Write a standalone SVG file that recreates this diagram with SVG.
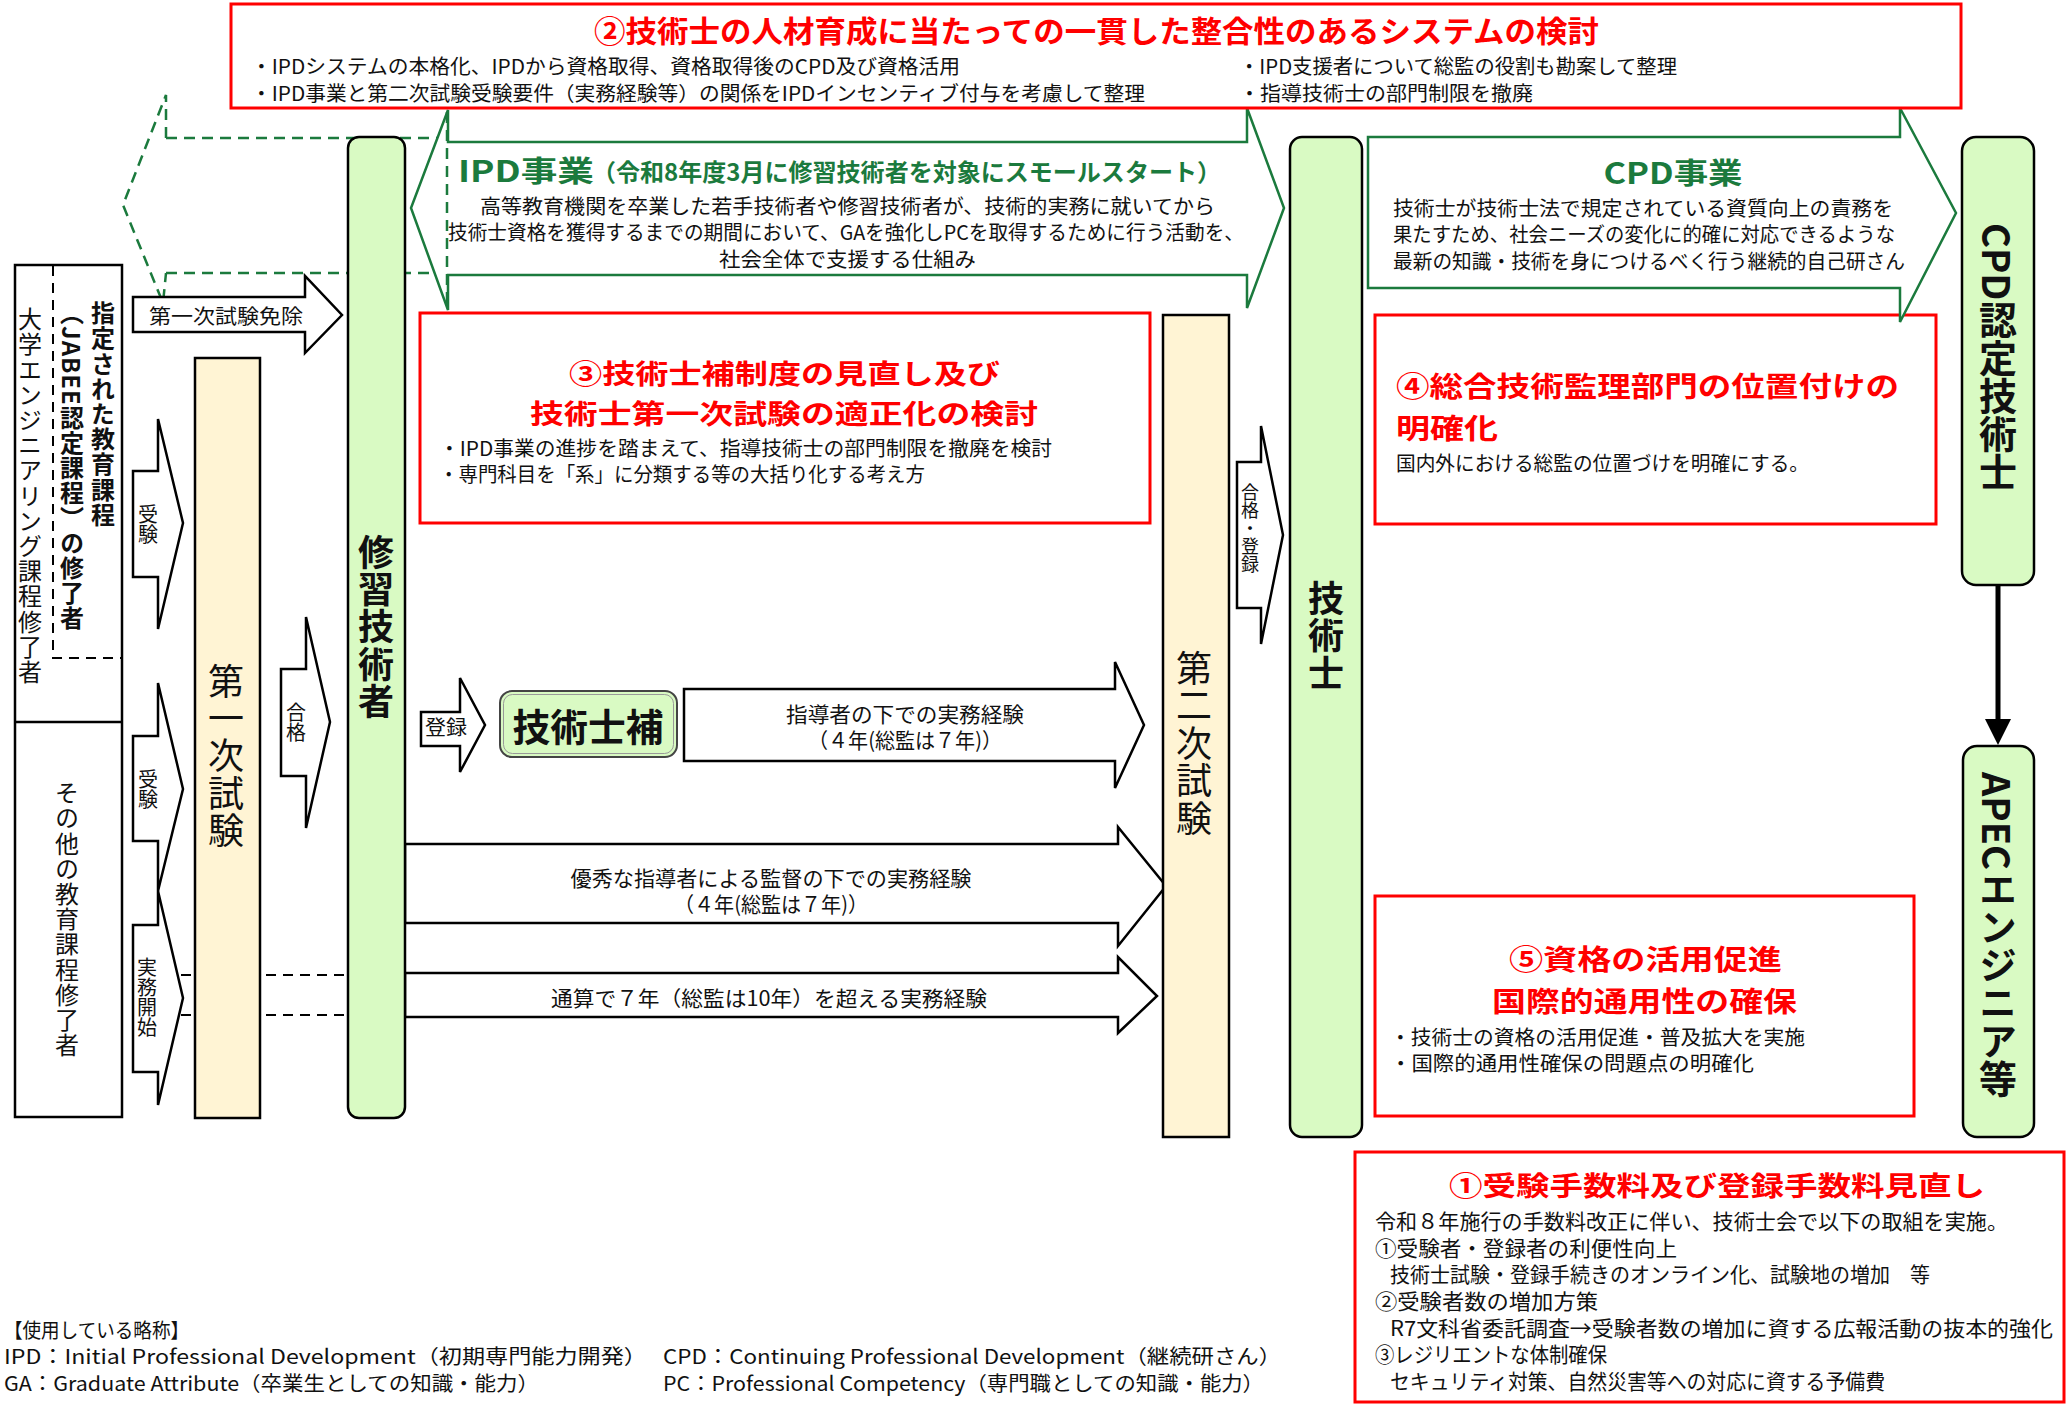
<svg xmlns="http://www.w3.org/2000/svg" width="2068" height="1404" viewBox="0 0 2068 1404">
<style>
text{font-family:"Noto Sans CJK JP","Noto Sans",sans-serif;fill:#111;}
.h{dominant-baseline:central;}
.b{font-weight:bold;}
.v{writing-mode:vertical-rl;}
.rt{fill:#FF0000;font-weight:bold;font-size:28px;}
.gt{fill:#1B7A3D;font-weight:bold;}
.n{fill:#111;font-weight:normal;font-size:20px;}
.n21{fill:#111;font-weight:normal;font-size:21px;}
.s20{font-size:20px;}
.s21{font-size:21px;}
.red{fill:#fff;stroke:#FF0000;stroke-width:3;}
.blk{fill:#fff;stroke:#000;stroke-width:2.5;stroke-linejoin:miter;}
.gbar{fill:#D9FAC3;stroke:#000;stroke-width:2.5;}
.ybar{fill:#FFF4D4;stroke:#000;stroke-width:2.5;}
.garr{fill:#fff;stroke:#1B7A3D;stroke-width:2.5;}
.gdash{fill:none;stroke:#1B7A3D;stroke-width:2.5;stroke-dasharray:11 7;}
.kdash{fill:none;stroke:#000;stroke-width:2;stroke-dasharray:10 7;}
</style>
<rect width="2068" height="1404" fill="#fff"/>

<g id="connectors">
  <path class="gdash" d="M166,138 L166,95 L123,205 L163,303 L166,273"/>
  <line class="gdash" x1="166" y1="138" x2="447" y2="138"/>
  <line class="gdash" x1="166" y1="273" x2="447" y2="273"/>
  <line class="kdash" x1="181" y1="975" x2="348" y2="975"/>
  <line class="kdash" x1="181" y1="1015" x2="348" y2="1015"/>
  <g id="arr-menjo">
    <polygon class="blk" points="133,297 305,297 305,276 342,315 305,353 305,332 133,332"/>
    <text class="h s20" x="226" y="315" text-anchor="middle" textLength="154" lengthAdjust="spacingAndGlyphs">第一次試験免除</text>
  </g>
  <g id="arr-juken1">
    <polygon class="blk" points="133,471 158,471 158,419 183,523 158,629 158,577 133,577"/>
    <text class="v s20" x="148" y="504">受験</text>
  </g>
  <g id="arr-juken2">
    <polygon class="blk" points="133,736 158,736 158,683 183,789 158,891 158,841 133,841"/>
    <text class="v s20" x="148" y="769">受験</text>
  </g>
  <g id="arr-jitsumu">
    <polygon class="blk" points="133,925 158,925 158,891 183,998 158,1105 158,1072 133,1072"/>
    <text class="v s20" x="147" y="957">実務開始</text>
  </g>
  <g id="arr-goukaku1">
    <polygon class="blk" points="281,669 306,669 306,617 330,722 306,828 306,776 281,776"/>
    <text class="v s20" x="296" y="702">合格</text>
  </g>
  <g id="arr-touroku">
    <polygon class="blk" points="421,712 460,712 460,678 485,725 460,772 460,746 421,746"/>
    <text class="h s20" x="446" y="726" text-anchor="middle" textLength="42" lengthAdjust="spacingAndGlyphs">登録</text>
  </g>
  <g id="arr-shidou">
    <polygon class="blk" points="684,689 1115,689 1115,662 1144,725 1115,788 1115,761 684,761"/>
    <text class="h s21" text-anchor="middle"><tspan x="905" y="713" textLength="238" lengthAdjust="spacingAndGlyphs">指導者の下での実務経験</tspan><tspan x="905" y="739" textLength="194" lengthAdjust="spacingAndGlyphs">（４年(総監は７年)）</tspan></text>
  </g>
  <g id="arr-yuushuu">
    <polygon class="blk" points="405,844 1118,844 1118,827 1166,886 1118,946 1118,923 405,923"/>
    <text class="h s21" text-anchor="middle"><tspan x="771" y="877" textLength="401" lengthAdjust="spacingAndGlyphs">優秀な指導者による監督の下での実務経験</tspan><tspan x="771" y="903" textLength="194" lengthAdjust="spacingAndGlyphs">（４年(総監は７年)）</tspan></text>
  </g>
  <g id="arr-tsuusan">
    <polygon class="blk" points="405,973 1118,973 1118,957 1157,996 1118,1033 1118,1017 405,1017"/>
    <text class="h s21" x="769" y="997" text-anchor="middle" textLength="436" lengthAdjust="spacingAndGlyphs">通算で７年（総監は10年）を超える実務経験</text>
  </g>
  <g id="arr-goukaku2">
    <polygon class="blk" points="1237,462 1261,462 1261,426 1283,535 1261,644 1261,608 1237,608"/>
    <text class="v" style="font-size:18px" x="1250" y="483">合格・登録</text>
  </g>
  <g id="arr-down">
    <line x1="1998" y1="585" x2="1998" y2="722" stroke="#000" stroke-width="5"/>
    <polygon points="1985,719 2011,719 1998,745" fill="#000"/>
  </g>
</g>

<g id="node-ipd">
  <path class="garr" d="M448,142 L1247,142 L1247,108 L1284,208 L1247,308 L1247,275 L448,275 L448,310 L411,208 L448,110 Z"/>
  <line class="gdash" x1="447" y1="112" x2="447" y2="308"/>
  <text class="h gt"><tspan x="458" y="169" style="font-size:29px" textLength="136" lengthAdjust="spacingAndGlyphs">IPD事業</tspan><tspan x="592" y="170" style="font-size:24px" textLength="629" lengthAdjust="spacingAndGlyphs">（令和8年度3月に修習技術者を対象にスモールスタート）</tspan><tspan class="n" x="480" y="204.5" textLength="735" lengthAdjust="spacingAndGlyphs">高等教育機関を卒業した若手技術者や修習技術者が、技術的実務に就いてから</tspan><tspan class="n" x="448" y="231" textLength="796" lengthAdjust="spacingAndGlyphs">技術士資格を獲得するまでの期間において、GAを強化しPCを取得するために行う活動を、</tspan><tspan class="n" x="719" y="257.5" textLength="257" lengthAdjust="spacingAndGlyphs">社会全体で支援する仕組み</tspan></text>
</g>

<g id="node-box4">
  <rect class="red" x="1375" y="315" width="561" height="209"/>
  <text class="h rt"><tspan x="1396" y="385" textLength="503" lengthAdjust="spacingAndGlyphs">④総合技術監理部門の位置付けの</tspan><tspan x="1396" y="427" textLength="102" lengthAdjust="spacingAndGlyphs">明確化</tspan><tspan class="n" x="1396" y="462" textLength="413" lengthAdjust="spacingAndGlyphs">国内外における総監の位置づけを明確にする。</tspan></text>
</g>

<g id="node-cpd">
  <polygon class="garr" points="1368,137 1900,137 1900,108 1956,213 1900,322 1900,288 1368,288"/>
  <text class="h gt"><tspan x="1673" y="171" style="font-size:29px" text-anchor="middle" textLength="139" lengthAdjust="spacingAndGlyphs">CPD事業</tspan><tspan class="n" x="1393" y="207" textLength="500" lengthAdjust="spacingAndGlyphs">技術士が技術士法で規定されている資質向上の責務を</tspan><tspan class="n" x="1393" y="233" textLength="502" lengthAdjust="spacingAndGlyphs">果たすため、社会ニーズの変化に的確に対応できるような</tspan><tspan class="n" x="1393" y="260" textLength="512" lengthAdjust="spacingAndGlyphs">最新の知識・技術を身につけるべく行う継続的自己研さん</tspan></text>
</g>

<g id="node-box2">
  <rect class="red" x="231" y="4" width="1730" height="104"/>
  <text class="h rt"><tspan x="594" y="29" style="font-size:29.5px" textLength="1005" lengthAdjust="spacingAndGlyphs">②技術士の人材育成に当たっての一貫した整合性のあるシステムの検討</tspan><tspan class="n" x="251" y="65" textLength="709" lengthAdjust="spacingAndGlyphs">・IPDシステムの本格化、IPDから資格取得、資格取得後のCPD及び資格活用</tspan><tspan class="n" x="251" y="92" textLength="894" lengthAdjust="spacingAndGlyphs">・IPD事業と第二次試験受験要件（実務経験等）の関係をIPDインセンティブ付与を考慮して整理</tspan><tspan class="n" x="1239" y="65" textLength="438" lengthAdjust="spacingAndGlyphs">・IPD支援者について総監の役割も勘案して整理</tspan><tspan class="n" x="1239" y="92" textLength="294" lengthAdjust="spacingAndGlyphs">・指導技術士の部門制限を撤廃</tspan></text>
</g>

<g id="node-graduates">
  <rect x="15" y="265" width="107" height="852" fill="#fff" stroke="#000" stroke-width="2.5"/>
  <line x1="15" y1="722" x2="122" y2="722" stroke="#000" stroke-width="2.5"/>
  <path class="kdash" d="M53,266 L53,658 L122,658"/>
  <text class="v" style="font-size:24px;letter-spacing:1.2px" x="30" y="307">大学エンジニアリング課程修了者</text>
  <text class="v b" style="font-size:24px;letter-spacing:1.2px" x="103" y="301">指定された教育課程</text>
  <text class="v b" style="font-size:24px;letter-spacing:1px" x="72" y="301">（JABEE認定課程）の修了者</text>
  <text class="v" style="font-size:24px;letter-spacing:1.2px" x="67" y="781">その他の教育課程修了者</text>
</g>

<g id="node-exam1">
  <rect class="ybar" x="195" y="358" width="65" height="760"/>
  <text class="v" style="font-size:36px;letter-spacing:1.4px" x="226" y="663">第一次試験</text>
</g>

<g id="node-shuushuu">
  <rect class="gbar" x="348" y="137" width="57" height="981" rx="11"/>
  <text class="v b" style="font-size:36px;letter-spacing:1.4px" x="376" y="534">修習技術者</text>
</g>

<g id="node-gijutsushiho">
  <rect x="500" y="691" width="177" height="66" rx="12" fill="#D9FAC3" stroke="#444" stroke-width="2"/>
  <rect x="503.5" y="694.5" width="170" height="59" rx="9" fill="none" stroke="#999" stroke-width="1"/>
  <text class="h b" x="588" y="724" style="font-size:38px" text-anchor="middle" textLength="151" lengthAdjust="spacingAndGlyphs">技術士補</text>
</g>

<g id="node-box3">
  <rect class="red" x="420" y="313" width="730" height="210"/>
  <text class="h rt" style="font-size:27.5px"><tspan x="569" y="372" textLength="431" lengthAdjust="spacingAndGlyphs">③技術士補制度の見直し及び</tspan><tspan x="530" y="412" textLength="508" lengthAdjust="spacingAndGlyphs">技術士第一次試験の適正化の検討</tspan><tspan class="n" x="439" y="447" textLength="613" lengthAdjust="spacingAndGlyphs">・IPD事業の進捗を踏まえて、指導技術士の部門制限を撤廃を検討</tspan><tspan class="n" x="439" y="473" textLength="486" lengthAdjust="spacingAndGlyphs">・専門科目を「系」に分類する等の大括り化する考え方</tspan></text>
</g>

<g id="node-exam2">
  <rect class="ybar" x="1163" y="315" width="66" height="822"/>
  <text class="v" style="font-size:36px;letter-spacing:1.6px" x="1194" y="650">第二次試験</text>
</g>

<g id="node-gijutsushi">
  <rect class="gbar" x="1290" y="137" width="72" height="1000" rx="12"/>
  <text class="v b" style="font-size:36px;letter-spacing:1.5px" x="1326" y="580">技術士</text>
</g>

<g id="node-cpdpe">
  <rect class="gbar" x="1962" y="137" width="72" height="448" rx="14"/>
  <text class="v b" style="font-size:38px" x="1998" y="223">CPD認定技術士</text>
</g>

<g id="node-apec">
  <rect class="gbar" x="1963" y="746" width="71" height="391" rx="14"/>
  <text class="v b" style="font-size:38px" x="1998" y="772">APECエンジニア等</text>
</g>

<g id="node-box5">
  <rect class="red" x="1375" y="896" width="539" height="220"/>
  <text class="h rt"><tspan x="1509" y="958" textLength="273" lengthAdjust="spacingAndGlyphs">⑤資格の活用促進</tspan><tspan x="1492" y="1000" textLength="305" lengthAdjust="spacingAndGlyphs">国際的通用性の確保</tspan><tspan class="n" x="1390" y="1036" textLength="415" lengthAdjust="spacingAndGlyphs">・技術士の資格の活用促進・普及拡大を実施</tspan><tspan class="n" x="1390" y="1062" textLength="364" lengthAdjust="spacingAndGlyphs">・国際的通用性確保の問題点の明確化</tspan></text>
</g>

<g id="node-box1">
  <rect class="red" x="1355" y="1152" width="709" height="250"/>
  <text class="h rt" style="font-size:27px"><tspan x="1449" y="1184" textLength="536" lengthAdjust="spacingAndGlyphs">①受験手数料及び登録手数料見直し</tspan><tspan class="n21" x="1375" y="1220" textLength="633" lengthAdjust="spacingAndGlyphs">令和８年施行の手数料改正に伴い、技術士会で以下の取組を実施。</tspan><tspan class="n21" x="1375" y="1247" textLength="302" lengthAdjust="spacingAndGlyphs">①受験者・登録者の利便性向上</tspan><tspan class="n21" x="1390" y="1273" textLength="540" lengthAdjust="spacingAndGlyphs">技術士試験・登録手続きのオンライン化、試験地の増加　等</tspan><tspan class="n21" x="1375" y="1300" textLength="223" lengthAdjust="spacingAndGlyphs">②受験者数の増加方策</tspan><tspan class="n21" x="1390" y="1327" textLength="663" lengthAdjust="spacingAndGlyphs">R7文科省委託調査→受験者数の増加に資する広報活動の抜本的強化</tspan><tspan class="n21" x="1375" y="1353" textLength="232" lengthAdjust="spacingAndGlyphs">③レジリエントな体制確保</tspan><tspan class="n21" x="1390" y="1380" textLength="495" lengthAdjust="spacingAndGlyphs">セキュリティ対策、自然災害等への対応に資する予備費</tspan></text>
</g>

<g id="legend">
  <text class="h s20"><tspan x="4" y="1329" textLength="185" lengthAdjust="spacingAndGlyphs">【使用している略称】</tspan><tspan x="4" y="1355" textLength="643" lengthAdjust="spacingAndGlyphs">IPD：Initial Professional Development（初期専門能力開発）</tspan><tspan x="663" y="1355" textLength="618" lengthAdjust="spacingAndGlyphs">CPD：Continuing Professional Development（継続研さん）</tspan><tspan x="4" y="1382" textLength="535" lengthAdjust="spacingAndGlyphs">GA：Graduate Attribute（卒業生としての知識・能力）</tspan><tspan x="663" y="1382" textLength="601" lengthAdjust="spacingAndGlyphs">PC：Professional Competency（専門職としての知識・能力）</tspan></text>
</g>
</svg>
